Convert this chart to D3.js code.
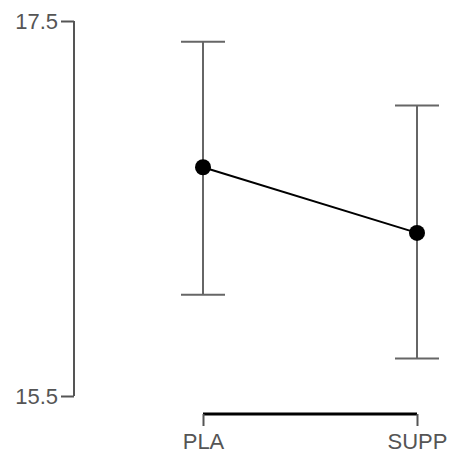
<!DOCTYPE html>
<html><head><meta charset="utf-8">
<script src="https://cdn.jsdelivr.net/npm/d3@7"></script>
<style>body{margin:0;background:#fff}svg{display:block}</style>
</head><body>
<svg id="c" width="451" height="459"></svg>
<script>
const categories = ["PLA", "SUPP"];
const means = [16.72, 16.37];
const upper = [17.39, 17.05];
const lower = [16.04, 15.70];
const yTicks = [15.5, 17.5];

const svg = d3.select("#c");
const x = d3.scalePoint().domain(categories).range([203, 417]);
const y = d3.scaleLinear().domain([15.5, 17.5]).range([396, 21]);
const grey = "#555";
const font = "Liberation Sans, Arial, sans-serif";

// y axis
const ya = svg.append("g").attr("transform", "translate(74,0)")
  .call(d3.axisLeft(y).tickValues(yTicks).tickSize(13).tickPadding(3).tickFormat(d3.format(".1f")));
ya.select(".domain").attr("stroke", grey).attr("stroke-width", 2).attr("d", `M0,${y(15.5)}V${y(17.5)}`);
ya.selectAll(".tick line").attr("stroke", grey).attr("stroke-width", 2);
ya.selectAll(".tick text").attr("fill", grey).attr("font-family", font).attr("font-size", 22);

// x axis
const xa = svg.append("g").attr("transform", "translate(0,414)")
  .call(d3.axisBottom(x).tickSize(12).tickPadding(7));
xa.select(".domain").attr("stroke", "#000").attr("stroke-width", 3).attr("d", `M${x("PLA")},0H${x("SUPP")}`);
xa.selectAll(".tick line").attr("stroke", grey).attr("stroke-width", 2);
xa.selectAll(".tick text").attr("fill", grey).attr("font-family", font).attr("font-size", 22);

const data = categories.map((c, i) => ({c, m: means[i], hi: upper[i], lo: lower[i]}));

// error bars
const eb = svg.append("g").attr("stroke", "#666").attr("stroke-width", 2).attr("fill", "none");
data.forEach(d => {
  eb.append("line").attr("x1", x(d.c)).attr("x2", x(d.c)).attr("y1", y(d.hi)).attr("y2", y(d.lo));
  eb.append("line").attr("x1", x(d.c) - 22).attr("x2", x(d.c) + 22).attr("y1", y(d.hi)).attr("y2", y(d.hi));
  eb.append("line").attr("x1", x(d.c) - 22).attr("x2", x(d.c) + 22).attr("y1", y(d.lo)).attr("y2", y(d.lo));
});

// line
svg.append("path").datum(data)
  .attr("d", d3.line().x(d => x(d.c)).y(d => y(d.m)))
  .attr("stroke", "#000").attr("stroke-width", 2).attr("fill", "none");

// points
svg.selectAll("circle.pt").data(data).join("circle")
  .attr("cx", d => x(d.c)).attr("cy", d => y(d.m)).attr("r", 8).attr("fill", "#000");
</script>
</body></html>
